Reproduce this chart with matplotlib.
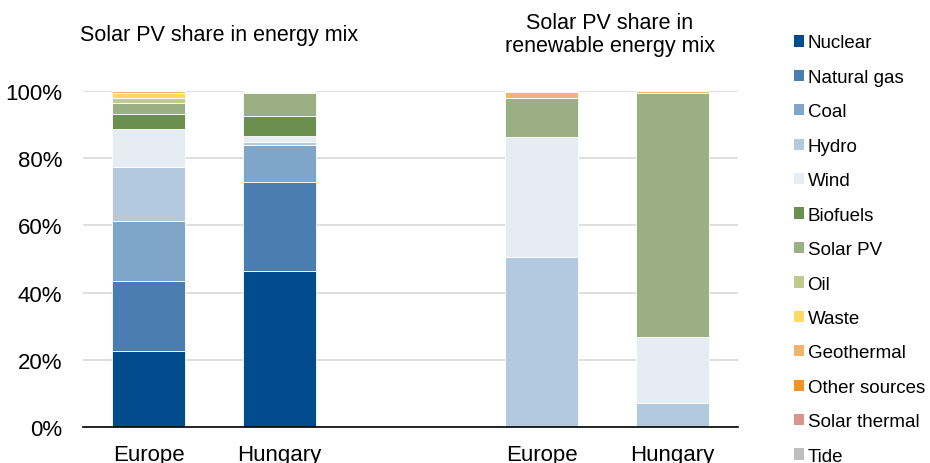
import matplotlib.pyplot as plt
import numpy as np
from matplotlib.patches import Patch

plt.rcParams['font.family'] = ['Liberation Sans', 'DejaVu Sans']

# bars: Europe / Hungary in energy mix, then Europe / Hungary in renewable mix
bar_labels = ['Europe', 'Hungary', 'Europe', 'Hungary']
bar_pos = [0, 1, 3, 4]

sources = ['Nuclear', 'Natural gas', 'Coal', 'Hydro', 'Wind', 'Biofuels', 'Solar PV',
           'Oil', 'Waste', 'Geothermal', 'Other sources', 'Solar thermal', 'Tide']

nuclear = [22.6, 46.4, 0, 0]
natural_gas = [21.0, 26.6, 0, 0]
coal = [17.8, 11.0, 0, 0]
hydro = [16.1, 0.9, 50.6, 7.1]
wind = [11.3, 1.8, 35.7, 19.7]
biofuels = [4.3, 5.9, 0, 0]
solar_pv = [3.4, 6.9, 11.6, 72.7]
oil = [1.5, 0.2, 0, 0]
waste = [1.5, 0.1, 0, 0]
geothermal = [0.4, 0.2, 1.8, 0.5]
other_sources = [0.1, 0, 0, 0]
solar_thermal = [0, 0, 0.3, 0]
tide = [0, 0, 0, 0]

values = [nuclear, natural_gas, coal, hydro, wind, biofuels, solar_pv,
          oil, waste, geothermal, other_sources, solar_thermal, tide]

colors = ['#004C8C', '#4A7EB0', '#7FA6C8', '#B3C9DD', '#E5ECF4', '#6A8F4E', '#9AB084',
          '#BFCB8E', '#FFD966', '#F4B36A', '#F29421', '#D99490', '#BFBFBF']

fig = plt.figure(figsize=(9.3, 4.64), dpi=100)
ax = fig.add_axes([83 / 930, 36 / 464, 655 / 930, 336 / 464])

bottom = np.zeros(len(bar_pos))
for name, vals, col in zip(sources, values, colors):
    vals = np.array(vals) / 100
    ax.bar(bar_pos, vals, width=0.55, bottom=bottom, color=col,
           edgecolor='white', linewidth=0.6, label=name)
    bottom += vals

ax.set_xlim(-0.5, 4.5)
ax.set_ylim(0, 1)
ax.set_yticks(np.arange(0, 1.01, 0.2))
ax.set_yticklabels([f'{int(round(v * 100))}%' for v in np.arange(0, 1.01, 0.2)], fontsize=16)
ax.set_xticks(bar_pos)
ax.set_xticklabels(bar_labels, fontsize=16)
ax.tick_params(length=0)
ax.tick_params(axis='x', pad=12)
ax.tick_params(axis='y', pad=15)
ax.yaxis.grid(True, color='#D9D9D9', linewidth=1.2)
ax.set_axisbelow(True)
for s in ['top', 'right', 'left']:
    ax.spines[s].set_visible(False)
ax.spines['bottom'].set_linewidth(1.2)
ax.spines['bottom'].set_zorder(5)

fig.text(219 / 930, 1 - 36 / 464, 'Solar PV share in energy mix', fontsize=15.5,
         ha='center', va='center')
fig.text(610 / 930, 1 - 35 / 464, 'Solar PV share in\nrenewable energy mix', fontsize=15.5,
         ha='center', va='center', linespacing=1.1)

handles = [Patch(facecolor=c, edgecolor='none') for c in colors]
fig.legend(handles, sources, loc='upper left', bbox_to_anchor=(786 / 930, 1 - 28 / 464),
           frameon=False, fontsize=13.5, handlelength=0.55, handleheight=0.55,
           handletextpad=0.2, labelspacing=0.93, borderaxespad=0)

plt.savefig('out.png', dpi=100)
